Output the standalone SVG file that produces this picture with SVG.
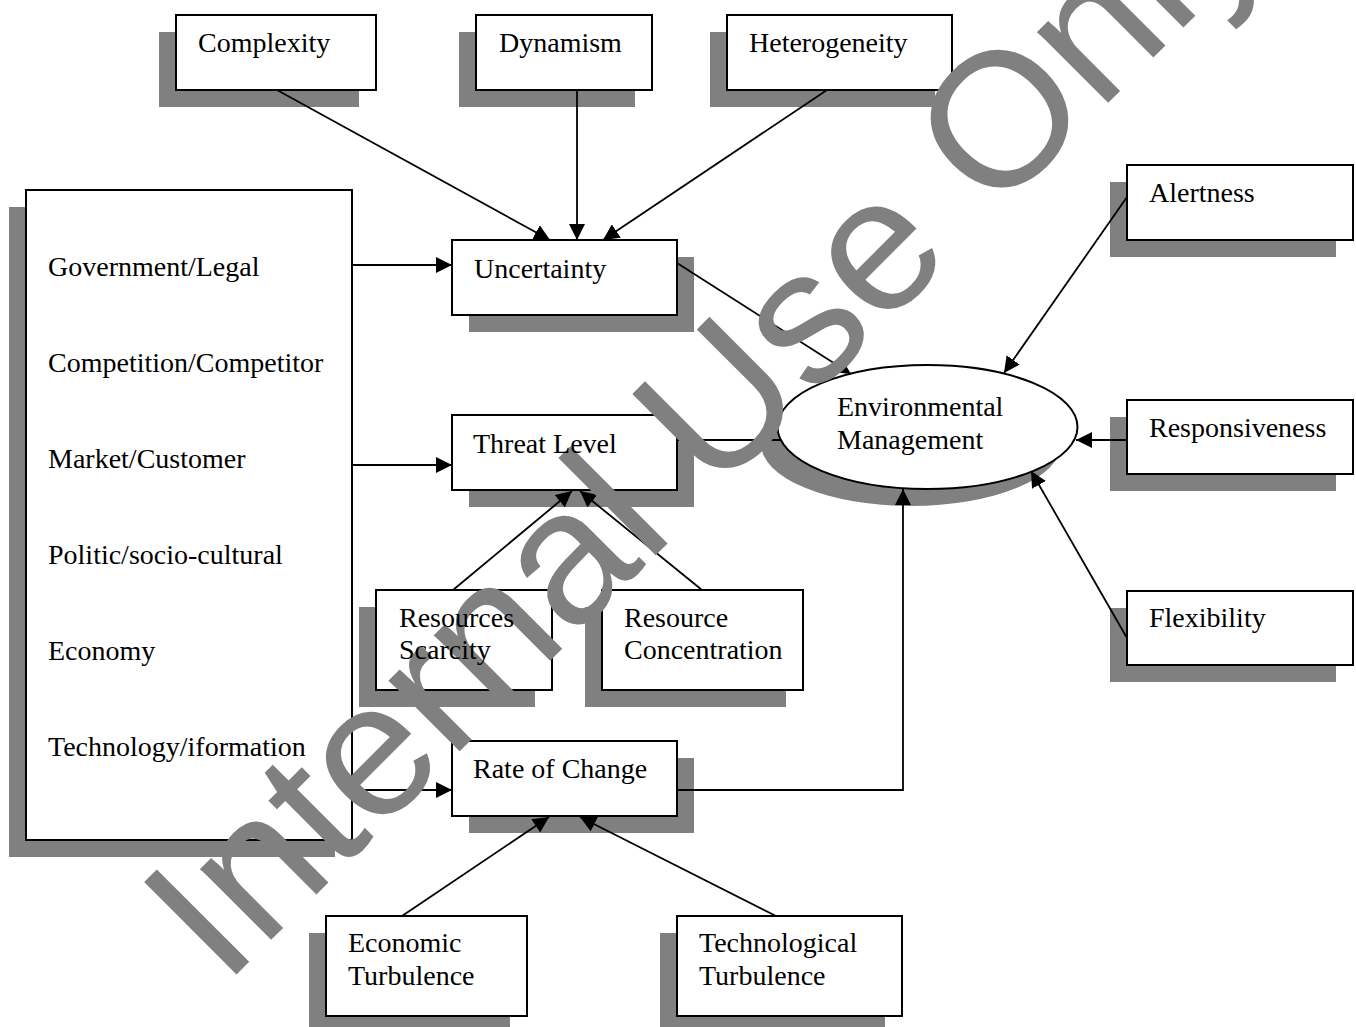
<svg xmlns="http://www.w3.org/2000/svg" width="1356" height="1027" viewBox="0 0 1356 1027">
<style>
.sh{fill:#808080;stroke:none}
.bx{fill:#fff;stroke:#000;stroke-width:2}
.cn{fill:none;stroke:#000;stroke-width:1.8}
.lb{font-family:"Liberation Serif","Times New Roman",serif;font-size:28px;fill:#000}
.wm{font-family:"Liberation Sans",Arial,sans-serif;font-size:190px;fill:#808080}
</style>
<defs>
<marker id="ah" markerUnits="userSpaceOnUse" markerWidth="16" markerHeight="16" refX="16" refY="8" orient="auto" viewBox="0 0 16 16">
<path d="M0,0 L16,8 L0,16 z" fill="#000"/>
</marker>
</defs>
<rect width="1356" height="1027" fill="#fff"/>
<g id="nodes">
<g id="complexity"><rect class="sh" x="159" y="32" width="200" height="75"/><rect class="bx" x="176" y="15" width="200" height="75"/></g>
<g id="dynamism"><rect class="sh" x="459" y="32" width="176" height="75"/><rect class="bx" x="476" y="15" width="176" height="75"/></g>
<g id="heterogeneity"><rect class="sh" x="710" y="32" width="225" height="75"/><rect class="bx" x="727" y="15" width="225" height="75"/></g>
<g id="factors"><rect class="sh" x="9" y="207" width="326" height="650"/><rect class="bx" x="26" y="190" width="326" height="650"/></g>
<g id="uncertainty"><rect class="sh" x="469" y="257" width="225" height="75"/><rect class="bx" x="452" y="240" width="225" height="75"/></g>
<g id="threat-level"><rect class="sh" x="469" y="432" width="225" height="75"/><rect class="bx" x="452" y="415" width="225" height="75"/></g>
<g id="resources-scarcity"><rect class="sh" x="359" y="607" width="176" height="100"/><rect class="bx" x="376" y="590" width="176" height="100"/></g>
<g id="resource-concentration"><rect class="sh" x="585" y="607" width="201" height="100"/><rect class="bx" x="602" y="590" width="201" height="100"/></g>
<g id="rate-of-change"><rect class="sh" x="469" y="758" width="225" height="75"/><rect class="bx" x="452" y="741" width="225" height="75"/></g>
<g id="economic-turbulence"><rect class="sh" x="309" y="933" width="201" height="100"/><rect class="bx" x="326" y="916" width="201" height="100"/></g>
<g id="technological-turbulence"><rect class="sh" x="660" y="933" width="225" height="100"/><rect class="bx" x="677" y="916" width="225" height="100"/></g>
<g id="environmental-management"><ellipse class="sh" cx="911" cy="444" rx="150" ry="62"/><ellipse class="bx" cx="927.5" cy="427" rx="150" ry="62"/></g>
<g id="alertness"><rect class="sh" x="1110" y="182" width="226" height="75"/><rect class="bx" x="1127" y="165" width="226" height="75"/></g>
<g id="responsiveness"><rect class="sh" x="1110" y="417" width="226" height="74"/><rect class="bx" x="1127" y="400" width="226" height="74"/></g>
<g id="flexibility"><rect class="sh" x="1110" y="608" width="226" height="74"/><rect class="bx" x="1127" y="591" width="226" height="74"/></g>
</g>
<g id="connectors">
<line class="cn" x1="277" y1="90" x2="550" y2="240" marker-end="url(#ah)"/>
<line class="cn" x1="577" y1="90" x2="577" y2="240" marker-end="url(#ah)"/>
<line class="cn" x1="827" y1="90" x2="603" y2="240" marker-end="url(#ah)"/>
<line class="cn" x1="352" y1="265" x2="452" y2="265" marker-end="url(#ah)"/>
<line class="cn" x1="352" y1="465" x2="452" y2="465" marker-end="url(#ah)"/>
<line class="cn" x1="352" y1="790" x2="452" y2="790" marker-end="url(#ah)"/>
<line class="cn" x1="677" y1="263" x2="851" y2="374" marker-end="url(#ah)"/>
<line class="cn" x1="677" y1="440" x2="781" y2="440"/>
<line class="cn" x1="453" y1="590" x2="572" y2="491" marker-end="url(#ah)"/>
<line class="cn" x1="702" y1="590" x2="580" y2="491" marker-end="url(#ah)"/>
<polyline class="cn" points="677,790 903,790 903,489" marker-end="url(#ah)"/>
<line class="cn" x1="402" y1="916" x2="549" y2="817" marker-end="url(#ah)"/>
<line class="cn" x1="776" y1="916" x2="580" y2="817" marker-end="url(#ah)"/>
<line class="cn" x1="1127" y1="197" x2="1004" y2="373" marker-end="url(#ah)"/>
<line class="cn" x1="1127" y1="440" x2="1076" y2="440" marker-end="url(#ah)"/>
<line class="cn" x1="1127" y1="638" x2="1031" y2="471" marker-end="url(#ah)"/>
</g>
<text id="watermark" class="wm" transform="translate(224,987) rotate(-45) scale(1.01,1)">Internal Use Only</text>
<g id="labels">
<text class="lb" x="198" y="52">Complexity</text>
<text class="lb" x="499" y="52">Dynamism</text>
<text class="lb" x="749" y="52">Heterogeneity</text>
<text class="lb" x="48" y="276">Government/Legal</text>
<text class="lb" x="48" y="372">Competition/Competitor</text>
<text class="lb" x="48" y="468">Market/Customer</text>
<text class="lb" x="48" y="564">Politic/socio-cultural</text>
<text class="lb" x="48" y="660">Economy</text>
<text class="lb" x="48" y="756">Technology/iformation</text>
<text class="lb" x="474" y="278">Uncertainty</text>
<text class="lb" x="473" y="453">Threat Level</text>
<text class="lb" x="399" y="627">Resources<tspan x="399" y="659">Scarcity</tspan></text>
<text class="lb" x="624" y="627">Resource<tspan x="624" y="659">Concentration</tspan></text>
<text class="lb" x="473" y="778">Rate of Change</text>
<text class="lb" x="348" y="952">Economic<tspan x="348" y="985">Turbulence</tspan></text>
<text class="lb" x="699" y="952">Technological<tspan x="699" y="985">Turbulence</tspan></text>
<text class="lb" x="837" y="416">Environmental<tspan x="837" y="449">Management</tspan></text>
<text class="lb" x="1149" y="202">Alertness</text>
<text class="lb" x="1149" y="437">Responsiveness</text>
<text class="lb" x="1149" y="627">Flexibility</text>
</g>
</svg>
